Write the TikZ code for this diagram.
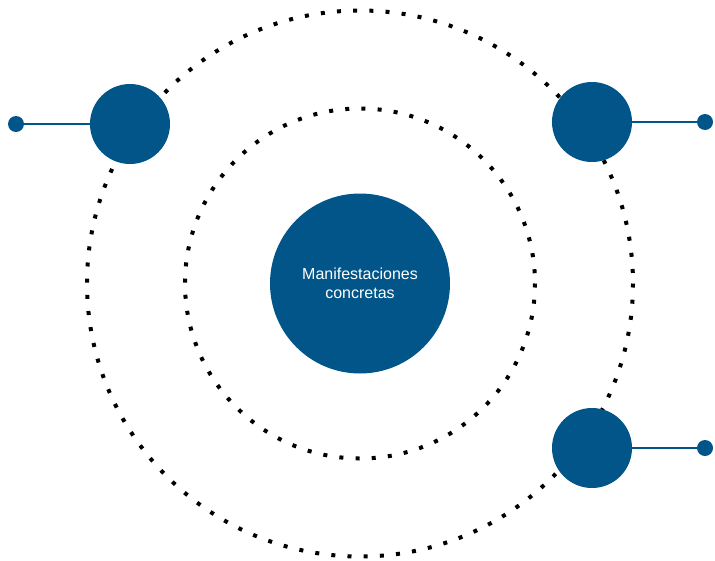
\documentclass[tikz,border=0pt]{standalone}
\usepackage{fontspec}
\setmainfont{Liberation Sans}
\definecolor{azul}{RGB}{2,85,137}
\tikzset{
  orbita/.style={line width=4pt, dash pattern=on 4pt off 12.2pt},
  bola/.style={circle, fill=azul, inner sep=0pt, minimum size=80pt},
  punto/.style={circle, fill=azul, inner sep=0pt, minimum size=16pt},
  enlace/.style={azul, line width=2pt}
}
\begin{document}
\begin{tikzpicture}[x=1pt,y=-1pt]
		\useasboundingbox (0,0) rectangle (715,560);
		\coordinate (O) at (360,283.5);
		\draw[orbita] (O) circle (273);
		\draw[orbita] (O) circle (175);
		\node[circle, fill=azul, inner sep=0pt, minimum size=180pt, text=white,
		  align=center, font=\fontsize{16}{19.3}\selectfont] (centro) at (O) {Manifestaciones\\concretas};
		\node[bola] (b1) at (130,124) {};
		\node[bola] (b2) at (592,122) {};
		\node[bola] (b3) at (592,448) {};
		\node[punto] (p1) at (16,124) {};
		\node[punto] (p2) at (705,122) {};
		\node[punto] (p3) at (705,448) {};
		\draw[enlace] (p1)--(b1);
		\draw[enlace] (b2)--(p2);
		\draw[enlace] (b3)--(p3);
\end{tikzpicture}
\end{document}
